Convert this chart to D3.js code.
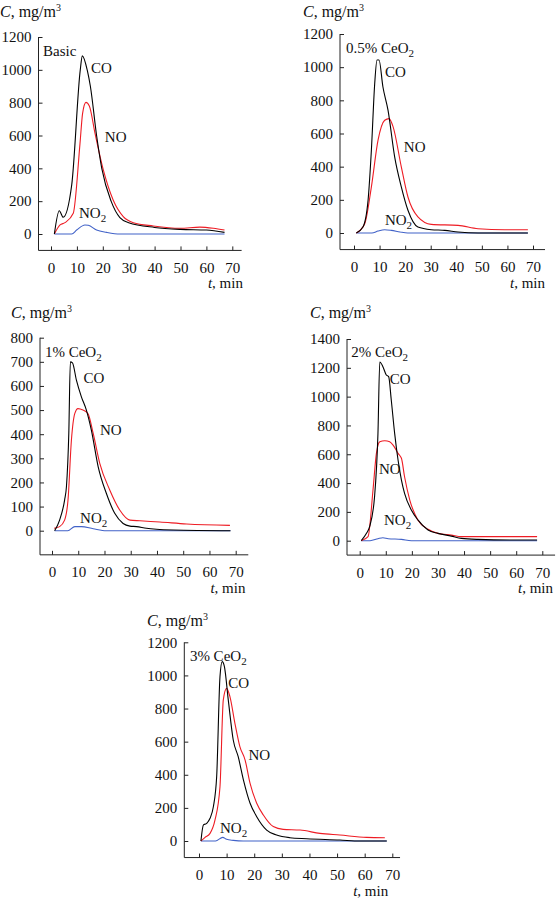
<!DOCTYPE html>
<html><head><meta charset="utf-8">
<script src="https://cdn.jsdelivr.net/npm/d3@7"></script>
<style>
html,body{margin:0;padding:0;background:#fff;}
svg{display:block;}
svg text{font-family:"Liberation Serif","DejaVu Serif","Times New Roman",serif !important;}
</style></head>
<body><svg id="chart" width="556" height="903"></svg>
<script>
// ---------- DATA (t, min ; C, mg/m3) ----------
const xTicks = [0,10,20,30,40,50,60,70];
const yTicks1200 = [0,200,400,600,800,1000,1200];
const yTicks800 = [0,100,200,300,400,500,600,700,800];
const yTicks1400 = [0,200,400,600,800,1000,1200,1400];
const panelTitles = ["Basic","0.5% CeO2","1% CeO2","2% CeO2","3% CeO2"];

const basicCO = [[1.3,0],[3.2,142],[4.7,102],[8,299],[11.3,1000],[12.1,1085],[14.1,990],[15.2,900],[17.6,600],[19.6,400],[23.2,200],[26.6,100],[30,69],[40,40],[50,28],[60,24],[67,10]];
const basicNO = [[1.3,0],[3.5,55],[5.4,69],[8.6,126],[11.2,552],[12.2,735],[13.5,802],[14.8,780],[17,613],[20.2,390],[24,207],[27.9,106],[31.8,69],[39.5,49],[49.8,35],[57.5,42],[62.7,35],[67,24]];
const basicNO2 = [[1.3,0],[8,0],[9.9,24],[13.1,55],[14.4,53],[17.6,24],[21.5,10],[26.6,0],[67,0]];

const ce05CO = [[0.9,0],[3.5,36],[5.5,197],[6.8,500],[8.1,902],[9,1043],[9.8,1043],[11.3,882],[13.3,741],[15.9,459],[18.5,278],[21.1,137],[25,36],[30.2,20],[35.5,16],[40.7,6],[48.5,0],[68,0]];
const ce05NO = [[0.9,0],[4.2,56],[6.8,278],[9.4,560],[12,680],[13.7,690],[15.3,640],[18.5,399],[21.1,217],[25,97],[30.2,52],[40.7,46],[48.5,26],[58.9,20],[68,20]];
const ce05NO2 = [[0.9,0],[7,0],[9.4,12],[12,20],[14.6,16],[18,6],[21,0],[68,0]];

const ce1CO = [[1,0],[2.9,44],[4.8,127],[5.5,182],[6.4,403],[7,700],[7.8,696],[9.3,624],[11.2,555],[13.1,500],[15,417],[17.6,265],[20.7,155],[23.9,72],[27.1,30],[29.7,19],[32.2,17],[36,10],[39.8,6],[46.2,3],[68,0]];
const ce1NO = [[0.8,10],[2.9,17],[4.8,44],[6.1,127],[7.4,376],[8.7,486],[9.9,506],[11.8,500],[13.7,486],[15.7,403],[18.2,279],[22,169],[25.8,86],[29.7,44],[33.5,41],[41.1,36],[51.3,28],[67.8,22]];
const ce1NO2 = [[1,0],[6,0],[8.7,17],[11.2,17],[15.7,8],[20.7,0],[68,0]];

const ce2CO = [[0.6,0],[2.6,51],[3.8,97],[5.7,306],[7,745],[7.7,1240],[8.9,1208],[10.2,1150],[11.1,1139],[12.1,977],[13.4,745],[14.7,560],[16,421],[17.2,329],[19.8,213],[22.3,144],[26.2,74],[30,51],[35.1,32],[39,16],[45.3,9],[58,5],[68,5]];
const ce2NO = [[0.6,0],[3.2,28],[5.1,352],[6.4,606],[7.7,687],[9.6,694],[11.5,687],[12.8,664],[14.7,606],[16,572],[17.2,444],[19.2,282],[22.3,144],[26.2,79],[30,51],[35.1,39],[39,28],[68,28]];
const ce2NO2 = [[0.6,0],[4,0],[7,14],[8.9,21],[10.9,14],[16,9],[19.8,0],[68,0]];

const ce3CO = [[0.7,0],[1.6,97],[2.8,107],[4,137],[5.2,207],[6.4,389],[7.6,993],[8.4,1083],[9.2,1053],[10.6,852],[12.4,610],[14.2,509],[16.1,368],[18.5,228],[20.9,147],[24.5,66],[28.1,36],[32.9,20],[39,14],[51,6],[58.3,0],[68,0]];
const ce3NO = [[0.7,0],[2.2,22],[4,46],[5.8,127],[7.6,328],[8.8,852],[10,922],[11.2,872],[13,711],[14.8,570],[16.7,489],[18.5,348],[20.9,228],[23.3,157],[26.9,87],[30.5,70],[36.6,66],[43.8,46],[51,36],[60.7,22],[67.3,20]];
const ce3NO2 = [[0.7,0],[6,0],[8.6,22],[10,10],[12.4,4],[16,0],[68,0]];

// ---------- LAYOUT ----------
const panels = [
  {title:panelTitles[0], co:basicCO, no:basicNO, no2:basicNO2, yTicks:yTicks1200,
   px:{ax:38.5, t0:51, t70:232.3, c0:234, cTop:37}, tEnd:74.1, xEnd:73.6,
   lab:{title:[-3.1,1085], co:[15.4,982], no:[20.8,561], no2:[10.8,98]}, cLabel:[0,17]},
  {title:panelTitles[1], co:ce05CO, no:ce05NO, no2:ce05NO2, yTicks:yTicks1200,
   px:{ax:340, t0:354, t70:533, c0:233, cTop:34}, tEnd:74.7, xEnd:74.7,
   lab:{title:[-3.1,1084], co:[12.1,943], no:[19.5,490], no2:[12.1,48]}, cLabel:[303,17]},
  {title:panelTitles[2], co:ce1CO, no:ce1NO, no2:ce1NO2, yTicks:yTicks800,
   px:{ax:40, t0:52, t70:235.7, c0:530.7, cTop:337.7}, tEnd:73.7, xEnd:74.8,
   lab:{title:[-2.7,722], co:[12,611], no:[18.3,397], no2:[10.7,33]}, cLabel:[11,318]},
  {title:panelTitles[3], co:ce2CO, no:ce2NO, no2:ce2NO2, yTicks:yTicks1400,
   px:{ax:347, t0:359.7, t70:542.3, c0:540.7, cTop:339}, tEnd:74.1, xEnd:74.9,
   lab:{title:[-3.2,1273], co:[11.5,1087], no:[7.4,463], no2:[9.3,109]}, cLabel:[310,318]},
  {title:panelTitles[4], co:ce3CO, no:ce3NO, no2:ce3NO2, yTicks:yTicks1200,
   px:{ax:184.3, t0:199, t70:392.3, c0:841, cTop:642.3}, tEnd:68.5, xEnd:72.8,
   lab:{title:[-3.3,1085], co:[10.6,927], no:[17.9,488], no2:[7.6,46]}, cLabel:[147,626]}
];

const colors = {co:"#000000", no:"#ee1c24", no2:"#4162c8"};
const FS = 15;
const FF = "Liberation Serif, DejaVu Serif, serif";
const svg = d3.select("#chart");

function addSubText(sel, txt){
  const m = txt.match(/^(.*O)2$/);
  if(m){
    sel.append("tspan").text(m[1]);
    sel.append("tspan").attr("font-size",11).attr("dy",4).text("2");
  } else sel.text(txt);
}

panels.forEach(p=>{
  const yMax = p.yTicks[p.yTicks.length-1];
  const x = d3.scaleLinear().domain([0,70]).range([p.px.t0,p.px.t70]);
  const y = d3.scaleLinear().domain([0,yMax]).range([p.px.c0,p.px.cTop]);
  const yBottom = y(-100);
  const g = svg.append("g").attr("font-family",FF);

  // y axis
  const yAxis = d3.axisLeft(y).tickValues(p.yTicks).tickSizeInner(-4).tickSizeOuter(0).tickPadding(7).tickFormat(d3.format("d"));
  const ya = g.append("g").attr("transform",`translate(${p.px.ax},0)`).call(yAxis).attr("font-family",FF);
  ya.select(".domain").remove();
  ya.selectAll("text").attr("font-size",FS).attr("fill","#111");
  ya.selectAll("line").attr("stroke","#222");
  g.append("line").attr("x1",p.px.ax).attr("x2",p.px.ax).attr("y1",y(yMax)).attr("y2",yBottom).attr("stroke","#222").attr("stroke-width",1);

  // x axis
  const xAxis = d3.axisBottom(x).tickValues(xTicks).tickSizeInner(-4).tickSizeOuter(0).tickPadding(12);
  const xa = g.append("g").attr("transform",`translate(0,${yBottom})`).call(xAxis).attr("font-family",FF);
  xa.select(".domain").remove();
  xa.selectAll("text").attr("font-size",FS).attr("fill","#111");
  xa.selectAll("line").attr("stroke","#222");
  g.append("line").attr("x1",p.px.ax).attr("x2",x(p.xEnd)).attr("y1",yBottom).attr("y2",yBottom).attr("stroke","#222").attr("stroke-width",1);

  // lines
  const line = d3.line().x(d=>x(d[0])).y(d=>y(d[1])).curve(d3.curveMonotoneX);
  [["no2",p.no2],["no",p.no],["co",p.co]].forEach(([k,data])=>{
    g.append("path").datum(data).attr("d",line).attr("fill","none")
      .attr("stroke",colors[k]).attr("stroke-width",1.1).attr("stroke-linejoin","round");
  });

  // labels
  const lt = g.append("text").attr("x",x(p.lab.title[0])).attr("y",y(p.lab.title[1])).attr("font-size",FS).attr("fill","#111");
  addSubText(lt,p.title);
  g.append("text").attr("x",x(p.lab.co[0])).attr("y",y(p.lab.co[1])).attr("font-size",FS).attr("fill","#111").text("CO");
  g.append("text").attr("x",x(p.lab.no[0])).attr("y",y(p.lab.no[1])).attr("font-size",FS).attr("fill","#111").text("NO");
  addSubText(g.append("text").attr("x",x(p.lab.no2[0])).attr("y",y(p.lab.no2[1])).attr("font-size",FS).attr("fill","#111"),"NO2");

  // axis titles
  const ct = g.append("text").attr("x",p.cLabel[0]).attr("y",p.cLabel[1]).attr("font-size",16).attr("fill","#111");
  ct.append("tspan").attr("font-style","italic").text("C");
  ct.append("tspan").text(", mg/m");
  ct.append("tspan").attr("font-size",10).attr("dy",-6).text("3");

  const tt = g.append("text").attr("x",x(p.tEnd)).attr("y",yBottom+38).attr("text-anchor","end").attr("font-size",FS).attr("fill","#111");
  tt.append("tspan").attr("font-style","italic").text("t");
  tt.append("tspan").text(", min");
});
</script>
</body></html>
